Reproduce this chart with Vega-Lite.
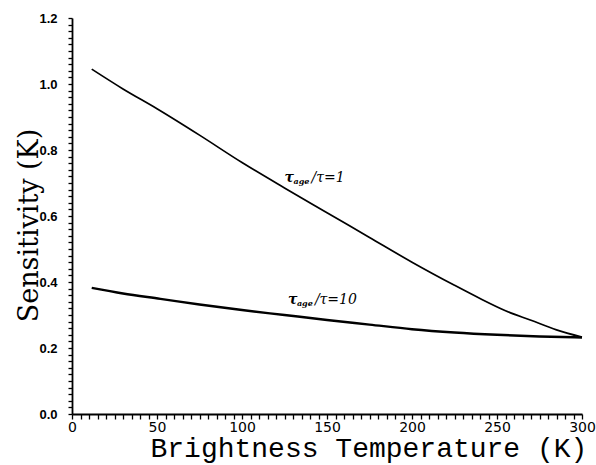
{
  "$schema": "https://vega.github.io/schema/vega-lite/v6.json",
  "width": 510,
  "height": 396,
  "autosize": "none",
  "padding": {"left": 72, "top": 18, "right": 14, "bottom": 51},
  "background": "white",
  "config": {"view": {"stroke": null}},
  "datasets": {
    "curves": [
      {"series": "1", "T": 11.6, "S": 1.045},
      {"series": "1", "T": 30, "S": 0.985},
      {"series": "1", "T": 50, "S": 0.925},
      {"series": "1", "T": 75, "S": 0.845},
      {"series": "1", "T": 100, "S": 0.762},
      {"series": "1", "T": 125, "S": 0.685},
      {"series": "1", "T": 150, "S": 0.61},
      {"series": "1", "T": 175, "S": 0.535},
      {"series": "1", "T": 200, "S": 0.46},
      {"series": "1", "T": 225, "S": 0.39},
      {"series": "1", "T": 240, "S": 0.35},
      {"series": "1", "T": 255, "S": 0.313},
      {"series": "1", "T": 270, "S": 0.284},
      {"series": "1", "T": 285, "S": 0.255},
      {"series": "1", "T": 300, "S": 0.233},
      {"series": "10", "T": 11.6, "S": 0.382},
      {"series": "10", "T": 30, "S": 0.365},
      {"series": "10", "T": 52, "S": 0.349},
      {"series": "10", "T": 75, "S": 0.332},
      {"series": "10", "T": 100, "S": 0.315},
      {"series": "10", "T": 125, "S": 0.3},
      {"series": "10", "T": 150, "S": 0.285},
      {"series": "10", "T": 175, "S": 0.271},
      {"series": "10", "T": 200, "S": 0.257},
      {"series": "10", "T": 225, "S": 0.247},
      {"series": "10", "T": 250, "S": 0.24},
      {"series": "10", "T": 275, "S": 0.235},
      {"series": "10", "T": 300, "S": 0.232}
    ],
    "labels": [
      {"T": 125, "S": 0.715, "pre": "τ", "sub": "age", "post": "/τ=1"},
      {"T": 127, "S": 0.345, "pre": "τ", "sub": "age", "post": "/τ=10"}
    ]
  },
  "encoding": {
    "x": {
      "field": "T", "type": "quantitative",
      "scale": {"domain": [0, 300], "nice": false},
      "axis": {
        "title": "Brightness Temperature (K)",
        "titleFont": "Liberation Mono",
        "titleFontSize": 28,
        "titleFontWeight": "normal",
        "titleColor": "black",
        "titleAlign": "left",
        "titleBaseline": "top",
        "titleX": 78,
        "titleY": 20,
        "values": [0,5,10,15,20,25,30,35,40,45,50,55,60,65,70,75,80,85,90,95,100,105,110,115,120,125,130,135,140,145,150,155,160,165,170,175,180,185,190,195,200,205,210,215,220,225,230,235,240,245,250,255,260,265,270,275,280,285,290,295,300],
        "labelExpr": "datum.value % 50 === 0 ? datum.label : ''",
        "labelFont": "DejaVu Sans",
        "labelFontSize": 14,
        "labelColor": "black",
        "labelPadding": 1,
        "labelOverlap": false,
        "labelFlush": false,
        "ticks": true,
        "tickSize": 5,
        "tickColor": "black",
        "tickWidth": 1.3,
        "domainColor": "black",
        "domainWidth": 1.8,
        "grid": false
      }
    },
    "y": {
      "field": "S", "type": "quantitative",
      "scale": {"domain": [0, 1.2], "nice": false},
      "axis": {
        "title": "Sensitivity (K)",
        "titleFont": "DejaVu Serif",
        "titleFontSize": 27,
        "titleFontWeight": "normal",
        "titleColor": "black",
        "titleAngle": -90,
        "titleAlign": "center",
        "titleBaseline": "bottom",
        "titleX": -29,
        "titleY": 207,
        "values": [0,0.02,0.04,0.06,0.08,0.1,0.12,0.14,0.16,0.18,0.2,0.22,0.24,0.26,0.28,0.3,0.32,0.34,0.36,0.38,0.4,0.42,0.44,0.46,0.48,0.5,0.52,0.54,0.56,0.58,0.6,0.62,0.64,0.66,0.68,0.7,0.72,0.74,0.76,0.78,0.8,0.82,0.84,0.86,0.88,0.9,0.92,0.94,0.96,0.98,1.0,1.02,1.04,1.06,1.08,1.1,1.12,1.14,1.16,1.18,1.2],
        "labelExpr": "round(datum.value * 50) % 10 === 0 ? format(datum.value, '.1f') : ''",
        "labelFont": "Liberation Sans",
        "labelFontSize": 13,
        "labelFontWeight": "bold",
        "labelColor": "black",
        "labelPadding": 11,
        "labelOverlap": false,
        "labelFlush": false,
        "ticks": true,
        "tickSize": 4,
        "tickColor": "black",
        "tickWidth": 1.3,
        "domainColor": "black",
        "domainWidth": 1.8,
        "grid": false
      }
    }
  },
  "layer": [
    {
      "data": {"name": "curves"},
      "mark": {"type": "line", "color": "black", "interpolate": "monotone"},
      "encoding": {
        "detail": {"field": "series"},
        "strokeWidth": {
          "field": "series", "type": "nominal",
          "scale": {"domain": ["1", "10"], "range": [1.7, 2.4]},
          "legend": null
        }
      }
    },
    {
      "data": {"name": "labels"},
      "mark": {"type": "text", "align": "left", "baseline": "middle", "font": "DejaVu Serif", "fontStyle": "italic", "fontWeight": "bold", "fontSize": 14, "color": "black"},
      "encoding": {
        "text": {"field": "pre"}
      }
    },
    {
      "data": {"name": "labels"},
      "mark": {"type": "text", "align": "left", "baseline": "middle", "font": "DejaVu Serif", "fontStyle": "italic", "fontWeight": "bold", "fontSize": 8, "dx": 9, "dy": 4, "color": "black"},
      "encoding": {
        "text": {"field": "sub"}
      }
    },
    {
      "data": {"name": "labels"},
      "mark": {"type": "text", "align": "left", "baseline": "middle", "font": "DejaVu Serif", "fontStyle": "italic", "fontWeight": "normal", "fontSize": 14, "dx": 27, "color": "black"},
      "encoding": {
        "text": {"field": "post"}
      }
    }
  ]
}
